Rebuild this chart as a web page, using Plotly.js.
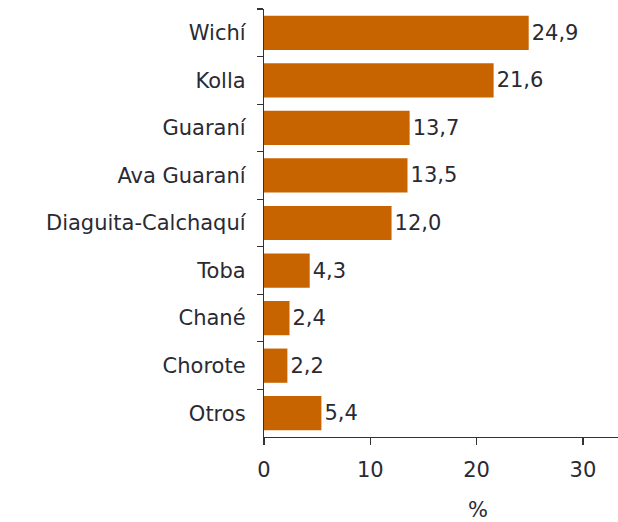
<!DOCTYPE html>
<html>
<head>
<meta charset="utf-8">
<script src="https://cdn.plot.ly/plotly-3.0.1.min.js"></script>
<style>html,body{margin:0;padding:0;background:#fff;}#chart{width:618px;height:522px;}</style>
</head>
<body>
<div id="chart"></div>
<script>
const categories = ["Wichí", "Kolla", "Guaraní", "Ava Guaraní", "Diaguita-Calchaquí", "Toba", "Chané", "Chorote", "Otros"];
const values = [24.9, 21.6, 13.7, 13.5, 12.0, 4.3, 2.4, 2.2, 5.4];
const xTicks = [0, 10, 20, 30];
const xTitle = "%";

const labels = values.map(v => v.toFixed(1).replace('.', ','));
const txtColor = '#2a2a33';
const font = {family: 'DejaVu Sans, Arial, sans-serif', size: 21, color: txtColor};

const trace = {
  type: 'bar',
  orientation: 'h',
  y: categories,
  x: values,
  text: labels,
  textposition: 'outside',
  cliponaxis: false,
  textfont: font,
  marker: {color: '#c86400', line: {width: 0}},
  hoverinfo: 'none'
};

const layout = {
  width: 618, height: 522,
  margin: {l: 264, r: 0, t: 9, b: 85},
  paper_bgcolor: '#fff', plot_bgcolor: '#fff',
  font: font,
  bargap: 0.28,
  showlegend: false,
  xaxis: {
    range: [0, 33.3],
    tickvals: xTicks,
    ticktext: xTicks.map(String),
    ticks: 'outside', ticklen: 7, tickcolor: '#333', tickwidth: 1.2,
    showline: true, linecolor: '#333', linewidth: 1.2,
    showgrid: false, zeroline: false,
    ticklabelstandoff: 7,
    tickfont: font
  },
  yaxis: {
    type: 'category',
    autorange: 'reversed',
    tickson: 'boundaries',
    ticks: 'outside', ticklen: 6, tickcolor: '#333', tickwidth: 1.2,
    showline: true, linecolor: '#333', linewidth: 1.2,
    showgrid: false, zeroline: false,
    ticklabelstandoff: 13,
    tickfont: font
  },
  annotations: [{
    text: xTitle, xref: 'paper', yref: 'paper',
    x: 0.605, y: -0.17, xanchor: 'center', yanchor: 'middle',
    showarrow: false, font: font
  }]
};

Plotly.newPlot('chart', [trace], layout, {staticPlot: true, displayModeBar: false});
</script>
</body>
</html>
